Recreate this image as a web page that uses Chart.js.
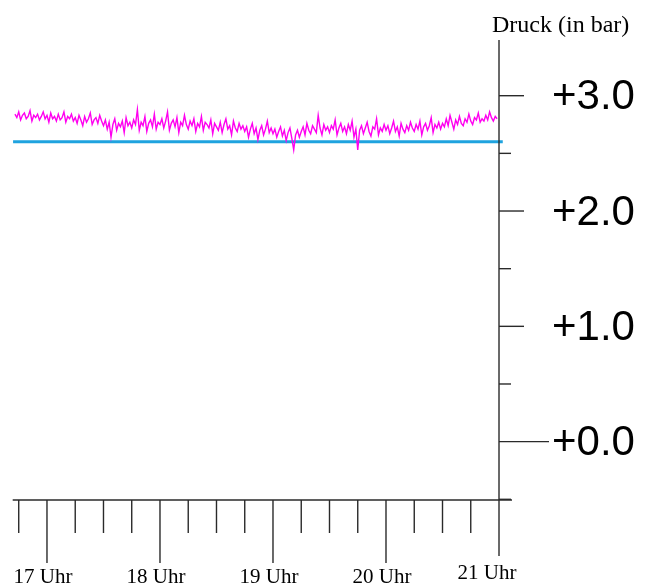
<!DOCTYPE html>
<html>
<head>
<meta charset="utf-8">
<script src="https://cdn.jsdelivr.net/npm/chart.js@4/dist/chart.umd.min.js"></script>
<style>
  html, body { margin: 0; padding: 0; background: #ffffff; }
  #wrap { width: 645px; height: 587px; }
</style>
</head>
<body>
<div id="wrap"><canvas id="c" width="645" height="587"></canvas></div>
<script>
// ---- Data (time in minutes since midnight, pressure in bar) ----
const pressureStartMinute = 16 * 60 + 43;   // first sample 16:43, one sample per minute
const pressureValues = [
  // 16:43-16:59
  2.84,2.81,2.86,2.79,2.83,2.85,2.80,2.82,2.87,2.78,2.83,2.81,2.84,2.79,2.82,2.86,2.80,
  // 17:00-17:14
  2.83,2.77,2.85,2.80,2.82,2.78,2.84,2.79,2.81,2.86,2.77,2.82,2.80,2.84,2.78,
  // 17:15-17:29
  2.81,2.76,2.83,2.79,2.74,2.82,2.77,2.80,2.85,2.75,2.79,2.81,2.76,2.83,2.78,
  // 17:30-17:44
  2.74,2.79,2.71,2.77,2.64,2.75,2.80,2.70,2.76,2.73,2.78,2.68,2.81,2.74,2.77,
  // 17:45-17:59
  2.72,2.79,2.75,2.88,2.70,2.77,2.74,2.82,2.69,2.76,2.79,2.73,2.84,2.71,2.77,
  // 18:00-18:14
  2.75,2.80,2.72,2.78,2.86,2.70,2.76,2.79,2.73,2.81,2.68,2.77,2.74,2.83,2.75,
  // 18:15-18:29
  2.71,2.78,2.74,2.80,2.69,2.76,2.73,2.82,2.70,2.77,2.75,2.72,2.79,2.67,2.76,
  // 18:30-18:44
  2.73,2.70,2.77,2.68,2.75,2.80,2.71,2.74,2.66,2.78,2.72,2.69,2.76,2.71,2.74,
  // 18:45-18:59
  2.69,2.73,2.64,2.71,2.76,2.67,2.72,2.62,2.70,2.74,2.66,2.71,2.78,2.68,2.72,
  // 19:00-19:14
  2.67,2.71,2.64,2.69,2.73,2.65,2.70,2.61,2.68,2.72,2.63,2.53,2.66,2.70,2.64,
  // 19:15-19:29
  2.69,2.73,2.66,2.76,2.70,2.67,2.74,2.71,2.68,2.83,2.72,2.66,2.75,2.70,2.73,
  // 19:30-19:44
  2.68,2.74,2.71,2.79,2.66,2.72,2.76,2.69,2.73,2.67,2.75,2.70,2.78,2.64,2.71,
  // 19:45-19:59
  2.53,2.70,2.74,2.67,2.72,2.77,2.69,2.65,2.73,2.71,2.80,2.66,2.72,2.69,2.75,
  // 20:00-20:14
  2.70,2.74,2.67,2.72,2.78,2.69,2.73,2.65,2.76,2.71,2.68,2.74,2.70,2.77,2.72,
  // 20:15-20:29
  2.69,2.75,2.71,2.78,2.66,2.73,2.76,2.70,2.74,2.81,2.68,2.75,2.72,2.77,2.71,
  // 20:30-20:44
  2.76,2.73,2.80,2.74,2.83,2.77,2.71,2.79,2.75,2.82,2.76,2.74,2.80,2.77,2.84,
  // 20:45-20:59
  2.78,2.75,2.81,2.79,2.85,2.77,2.80,2.78,2.83,2.79,2.86,2.81,2.78,2.82,2.80
];
const referenceLevel = 2.6;                         // cyan horizontal line (bar)
const referenceSpan = [16 * 60 + 42, 21 * 60 + 2];  // start / end minute

const xMajorTicks = [17 * 60, 18 * 60, 19 * 60, 20 * 60, 21 * 60];
const xMajorLabels = ["17 Uhr", "18 Uhr", "19 Uhr", "20 Uhr", "21 Uhr"];
const xMinorTicks = [16*60+45, 17*60+15, 17*60+30, 17*60+45, 18*60+15, 18*60+30, 18*60+45,
                     19*60+15, 19*60+30, 19*60+45, 20*60+15, 20*60+30, 20*60+45];
const yMajorTicks = [0, 1, 2, 3];
const yMajorLabels = ["+0.0", "+1.0", "+2.0", "+3.0"];
const yMinorTicks = [-0.5, 0.5, 1.5, 2.5];
const axisTitle = "Druck (in bar)";
const yAxisAt = 21 * 60;   // the pressure axis sits at 21 Uhr

// ---- Build datasets ----
const pressurePoints = pressureValues.map((v, i) => ({ x: pressureStartMinute + i, y: v }));
const referencePoints = referenceSpan.map(m => ({ x: m, y: referenceLevel }));

const axesPlugin = {
  id: 'customAxes',
  afterDraw(chart) {
    const ctx = chart.ctx;
    const xs = chart.scales.x, ys = chart.scales.y;
    const area = chart.chartArea;
    const axisX = xs.getPixelForValue(yAxisAt);
    const baseY = ys.getPixelForValue(ys.min);
    ctx.save();
    ctx.strokeStyle = '#2a2a2a';
    ctx.lineWidth = 1.4;
    ctx.lineCap = 'butt';
    // vertical pressure axis
    ctx.beginPath();
    ctx.moveTo(axisX, area.top);
    ctx.lineTo(axisX, baseY);
    ctx.stroke();
    // horizontal time axis
    ctx.beginPath();
    ctx.moveTo(area.left, baseY);
    ctx.lineTo(area.right, baseY);
    ctx.stroke();
    // x minor ticks
    xMinorTicks.forEach(t => {
      const px = xs.getPixelForValue(t);
      ctx.beginPath(); ctx.moveTo(px, baseY); ctx.lineTo(px, baseY + 33); ctx.stroke();
    });
    // x major ticks
    xMajorTicks.forEach(t => {
      const px = xs.getPixelForValue(t);
      const len = (t === yAxisAt) ? 56 : 63;
      ctx.beginPath(); ctx.moveTo(px, baseY); ctx.lineTo(px, baseY + len); ctx.stroke();
    });
    // y minor ticks
    yMinorTicks.forEach(v => {
      const py = ys.getPixelForValue(v);
      ctx.beginPath(); ctx.moveTo(axisX, py); ctx.lineTo(axisX + 12, py); ctx.stroke();
    });
    // y major ticks
    yMajorTicks.forEach(v => {
      const py = ys.getPixelForValue(v);
      const len = v === 0 ? 50 : 25;
      ctx.beginPath(); ctx.moveTo(axisX, py); ctx.lineTo(axisX + len, py); ctx.stroke();
    });
    // y labels
    ctx.fillStyle = '#000000';
    ctx.font = '42px "Liberation Sans", Arial, sans-serif';
    ctx.textAlign = 'left';
    ctx.textBaseline = 'middle';
    yMajorTicks.forEach((v, i) => {
      const py = ys.getPixelForValue(v);
      ctx.fillText(yMajorLabels[i], axisX + 53, py + 2);
    });
    // x labels
    ctx.font = '21px "Liberation Serif", "Times New Roman", serif';
    ctx.textAlign = 'center';
    ctx.textBaseline = 'alphabetic';
    xMajorTicks.forEach((t, i) => {
      const px = xs.getPixelForValue(t);
      const shift = (t === yAxisAt) ? -12 : -4;
      const lift = (t === yAxisAt) ? -4 : 0;
      ctx.fillText(xMajorLabels[i], px + shift, baseY + 83 + lift);
    });
    // axis title
    ctx.font = '24px "Liberation Serif", "Times New Roman", serif';
    ctx.textAlign = 'left';
    ctx.fillText(axisTitle, axisX - 7, 32);
    ctx.restore();
  }
};

new Chart(document.getElementById('c'), {
  type: 'line',
  data: {
    datasets: [
      {
        label: 'Druck',
        data: pressurePoints,
        borderColor: '#ff00f0',
        borderWidth: 1.4,
        pointRadius: 0,
        tension: 0,
        fill: false,
        order: 1
      },
      {
        label: 'Referenz',
        data: referencePoints,
        borderColor: '#1fa3df',
        borderWidth: 3,
        pointRadius: 0,
        fill: false,
        order: 2
      }
    ]
  },
  options: {
    responsive: false,
    animation: false,
    devicePixelRatio: 1,
    layout: { padding: { left: 12.7, right: 133, top: 40, bottom: 87 } },
    plugins: { legend: { display: false }, tooltip: { enabled: false }, title: { display: false } },
    scales: {
      x: { type: 'linear', display: false, min: 1001.8, max: 1266.9 },
      y: { type: 'linear', display: false, min: -0.506, max: 3.483 }
    }
  },
  plugins: [axesPlugin]
});
</script>
</body>
</html>
